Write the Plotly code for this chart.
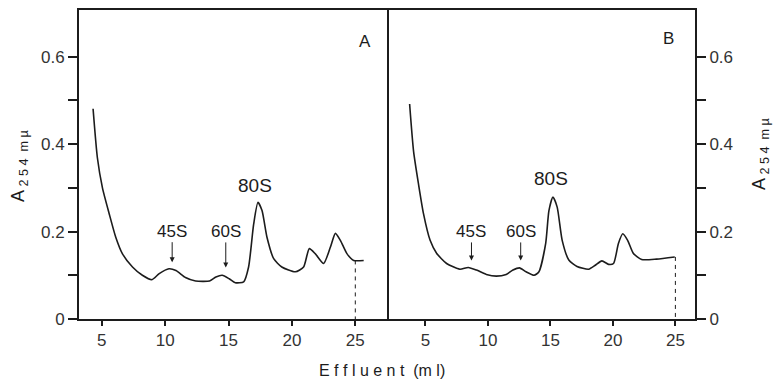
import plotly.graph_objects as go

# Panel A (left)
xa = [4.31, 4.65, 5.05, 5.58, 6.1, 6.63, 7.42, 8.2, 8.95, 9.53, 10.3, 10.85, 11.6, 12.4, 13.5, 14.0,
      14.5, 15.05, 15.53, 16.19, 16.58, 16.98, 17.32, 17.64, 18.03, 18.56, 19.2, 20.27, 20.92, 21.37,
      21.85, 22.5, 23.03, 23.43, 23.82, 24.35, 24.87, 25.66]
ya = [0.481, 0.369, 0.30, 0.241, 0.187, 0.149, 0.119, 0.10, 0.09, 0.104, 0.115, 0.111, 0.095, 0.087,
      0.087, 0.096, 0.10, 0.092, 0.083, 0.085, 0.119, 0.217, 0.267, 0.248, 0.187, 0.138, 0.119, 0.108,
      0.119, 0.161, 0.149, 0.127, 0.164, 0.196, 0.18, 0.149, 0.134, 0.134]

# Panel B (right)
xb = [3.73, 4.05, 4.44, 4.84, 5.37, 5.9, 6.69, 7.75, 8.42, 9.08, 9.87, 10.67, 11.46, 12.0, 12.52,
      13.05, 13.69, 14.08, 14.62, 14.88, 15.2, 15.54, 15.94, 16.47, 17.13, 18.06, 18.59, 19.12, 19.65,
      20.05, 20.44, 20.79, 21.18, 21.64, 22.3, 23.49, 24.95]
yb = [0.492, 0.383, 0.309, 0.241, 0.18, 0.15, 0.127, 0.114, 0.118, 0.112, 0.102, 0.098, 0.102, 0.112,
      0.117, 0.108, 0.10, 0.108, 0.173, 0.248, 0.279, 0.256, 0.18, 0.135, 0.12, 0.114, 0.123, 0.133,
      0.125, 0.127, 0.173, 0.195, 0.18, 0.15, 0.136, 0.137, 0.142]

# dashed end markers
end_a_x = [25, 25]
end_a_y = [0.134, 0]
end_b_x = [25, 25]
end_b_y = [0.142, 0]

x_ticks = [5, 10, 15, 20, 25]
y_ticks = [0, 0.2, 0.4, 0.6]
y_ticktext = ["0", "0.2", "0.4", "0.6"]
y_minor = [0.1, 0.3, 0.5]

# peak labels: (text, arrow tip x, arrow tip y, label offset above tip in px (None = no arrow))
peaks_a = [("45S", 10.55, 0.130, -31),
           ("60S", 14.78, 0.118, -36),
           ("80S", 17.05, 0.305, None)]
peaks_b = [("45S", 8.68, 0.134, -29),
           ("60S", 12.62, 0.134, -29),
           ("80S", 15.05, 0.322, None)]

INK = "#1c1c1c"
FONT = "Liberation Sans"

fig = go.Figure()
fig.add_trace(go.Scatter(x=xa, y=ya, mode="lines", line=dict(color=INK, width=1.6, shape="spline", smoothing=0.6),
                         xaxis="x", yaxis="y", showlegend=False))
fig.add_trace(go.Scatter(x=end_a_x, y=end_a_y, mode="lines", line=dict(color=INK, width=1, dash="4px,4px"),
                         xaxis="x", yaxis="y", showlegend=False))
fig.add_trace(go.Scatter(x=xb, y=yb, mode="lines", line=dict(color=INK, width=1.6, shape="spline", smoothing=0.6),
                         xaxis="x2", yaxis="y2", showlegend=False))
fig.add_trace(go.Scatter(x=end_b_x, y=end_b_y, mode="lines", line=dict(color=INK, width=1, dash="4px,4px"),
                         xaxis="x2", yaxis="y2", showlegend=False))

ax_common = dict(showgrid=False, zeroline=False, showline=True, linecolor=INK, linewidth=2,
                 ticks="outside", tickcolor=INK, tickwidth=1.5,
                 tickfont=dict(family=FONT, size=17, color="#333"))
y_minor_cfg = dict(tickvals=y_minor, ticks="outside", ticklen=9, tickcolor=INK, tickwidth=1.5, showgrid=False)

fig.update_layout(
    width=775, height=381,
    margin=dict(l=79, r=80, t=8, b=62),
    paper_bgcolor="white", plot_bgcolor="white",
    xaxis=dict(domain=[0, 0.5], range=[3.2, 27.5], tickvals=x_ticks, ticklen=5, anchor="y",
               mirror=True, **ax_common),
    xaxis2=dict(domain=[0.5, 1], range=[1.92, 26.57], tickvals=x_ticks, ticklen=5, anchor="y2",
                mirror=True, **ax_common),
    yaxis=dict(domain=[0, 1], range=[0, 0.707], tickvals=y_ticks, ticktext=y_ticktext, ticklen=9,
               minor=y_minor_cfg, anchor="x", mirror=True, **ax_common),
    yaxis2=dict(domain=[0, 1], range=[0, 0.707], tickvals=y_ticks, ticktext=y_ticktext, ticklen=9,
                minor=y_minor_cfg, anchor="x2", side="right", **ax_common),
)

annotations = []
for (xr, yr, peaks) in (("x", "y", peaks_a), ("x2", "y2", peaks_b)):
    for text, tx, ty, off in peaks:
        big = text == "80S"
        font = dict(family=FONT, size=19 if big else 17, color=INK)
        if off is None:
            annotations.append(dict(x=tx, y=ty, xref=xr, yref=yr, text=text, showarrow=False, font=font))
        else:
            annotations.append(dict(x=tx, y=ty, xref=xr, yref=yr, text=text, showarrow=True,
                                    ax=0, ay=off, arrowhead=2, arrowsize=1, arrowwidth=1,
                                    arrowcolor=INK, standoff=0, font=font))

ytitle = "A<sub> 2 5 4  m µ</sub>"
annotations += [
    dict(x=25.8, y=0.634, xref="x", yref="y", text="A", showarrow=False,
         font=dict(family=FONT, size=17, color=INK)),
    dict(x=24.42, y=0.641, xref="x2", yref="y2", text="B", showarrow=False,
         font=dict(family=FONT, size=17, color=INK)),
    dict(x=(382 - 79) / 616, y=(319 - 371) / 311, xref="paper", yref="paper",
         xanchor="center", yanchor="middle",
         text="E f f l u e n t  (m l)", showarrow=False,
         font=dict(family=FONT, size=16, color=INK)),
    dict(x=(20 - 79) / 616, y=(319 - 165) / 311, xref="paper", yref="paper", textangle=-90,
         xanchor="center", yanchor="middle",
         text=ytitle, showarrow=False,
         font=dict(family=FONT, size=18, color=INK)),
    dict(x=(760 - 79) / 616, y=(319 - 153) / 311, xref="paper", yref="paper", textangle=-90,
         xanchor="center", yanchor="middle",
         text=ytitle, showarrow=False,
         font=dict(family=FONT, size=18, color=INK)),
]
fig.update_layout(annotations=annotations)

fig.write_html("out.html")
